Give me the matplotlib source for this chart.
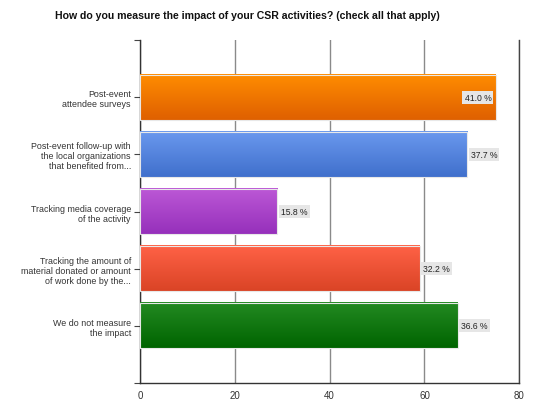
import numpy as np
import matplotlib
matplotlib.use("Agg")
import matplotlib.pyplot as plt
from matplotlib.colors import LinearSegmentedColormap

categories = [
    "Post-event\nattendee surveys",
    "Post-event follow-up with\nthe local organizations\nthat benefited from...",
    "Tracking media coverage\nof the activity",
    "Tracking the amount of\nmaterial donated or amount\nof work done by the...",
    "We do not measure\nthe impact",
]
counts = [75, 69, 29, 59, 67]
percent_labels = ["41.0 %", "37.7 %", "15.8 %", "32.2 %", "36.6 %"]
xticks = [0, 20, 40, 60, 80]
title = "How do you measure the impact of your CSR activities? (check all that apply)"

top_colors = ["#FF8C00", "#6A98EE", "#BC58D6", "#FF6246", "#238A22"]
bottom_colors = ["#DF6000", "#4070CC", "#9630BB", "#DA4426", "#006400"]

plt.rcParams['font.family'] = ['Liberation Sans', 'DejaVu Sans']

fig = plt.figure(figsize=(5.57, 4.14), dpi=100)
ax = fig.add_axes([140/557, 30/414, 379.3/557, 343/414])

pos = np.arange(len(categories))
bars = ax.barh(pos, counts, height=0.79, color="none", edgecolor="none", zorder=3)

ax.set_xlim(0, 80)
ax.set_ylim(len(categories), -1)

grad = np.linspace(0, 1, 64).reshape(-1, 1)
for bar, c1, c2 in zip(bars, top_colors, bottom_colors):
    x0, y0 = bar.get_x(), bar.get_y()
    w, h = bar.get_width(), bar.get_height()
    cmap = LinearSegmentedColormap.from_list("g", [c1, c2])
    # y axis inverted: top of bar is y0
    ax.imshow(grad, cmap=cmap, aspect="auto", extent=(x0, x0 + w, y0 + h, y0),
              zorder=3, interpolation="bilinear")
    ax.add_patch(plt.Rectangle((x0, y0), w, h, fill=False, edgecolor="#E8E8E8",
                               linewidth=0.8, zorder=4))
ax.set_xlim(0, 80)
ax.set_ylim(len(categories), -1)

for bar, lab in zip(bars, percent_labels):
    w = bar.get_width()
    yc = bar.get_y() + bar.get_height() / 2
    if w > 72:
        ax.text(w - 0.9, yc, lab, ha="right", va="center", fontsize=6.2, color="#222222",
                zorder=6, bbox=dict(boxstyle="square,pad=0.25", fc="#E6E6E6", ec="none"))
    else:
        ax.text(w + 0.75, yc, lab, ha="left", va="center", fontsize=6.2, color="#222222",
                zorder=6, bbox=dict(boxstyle="square,pad=0.25", fc="#E6E6E6", ec="none"))

ax.set_yticks(pos)
ax.set_yticklabels(categories, fontsize=6.4, color="#333333", linespacing=1.15)
ax.set_yticks([-1, len(categories)], minor=True)
ax.tick_params(axis="y", which="both", length=4, width=0.8, color="#444444", pad=2.5)
ax.set_xticks(xticks)
ax.set_xticklabels([str(t) for t in xticks], fontsize=7, color="#333333")
ax.tick_params(axis="x", length=0, pad=5)

ax.grid(axis="x", color="#8A8A8A", linewidth=1.0, zorder=0)
ax.set_axisbelow(True)
for s in ["top"]:
    ax.spines[s].set_visible(False)
ax.spines["right"].set_color("#444444")
ax.spines["right"].set_linewidth(1.0)
ax.spines["left"].set_color("#333333")
ax.spines["bottom"].set_color("#333333")
ax.spines["left"].set_linewidth(1.0)
ax.spines["bottom"].set_linewidth(1.0)
ax.spines["bottom"].set_bounds(0, 80)

fig.text(247/557, 1 - 16/414, title, ha="center", va="center", fontsize=7.6,
         fontweight="bold", color="#111111")

fig.savefig("out.png", dpi=100)
